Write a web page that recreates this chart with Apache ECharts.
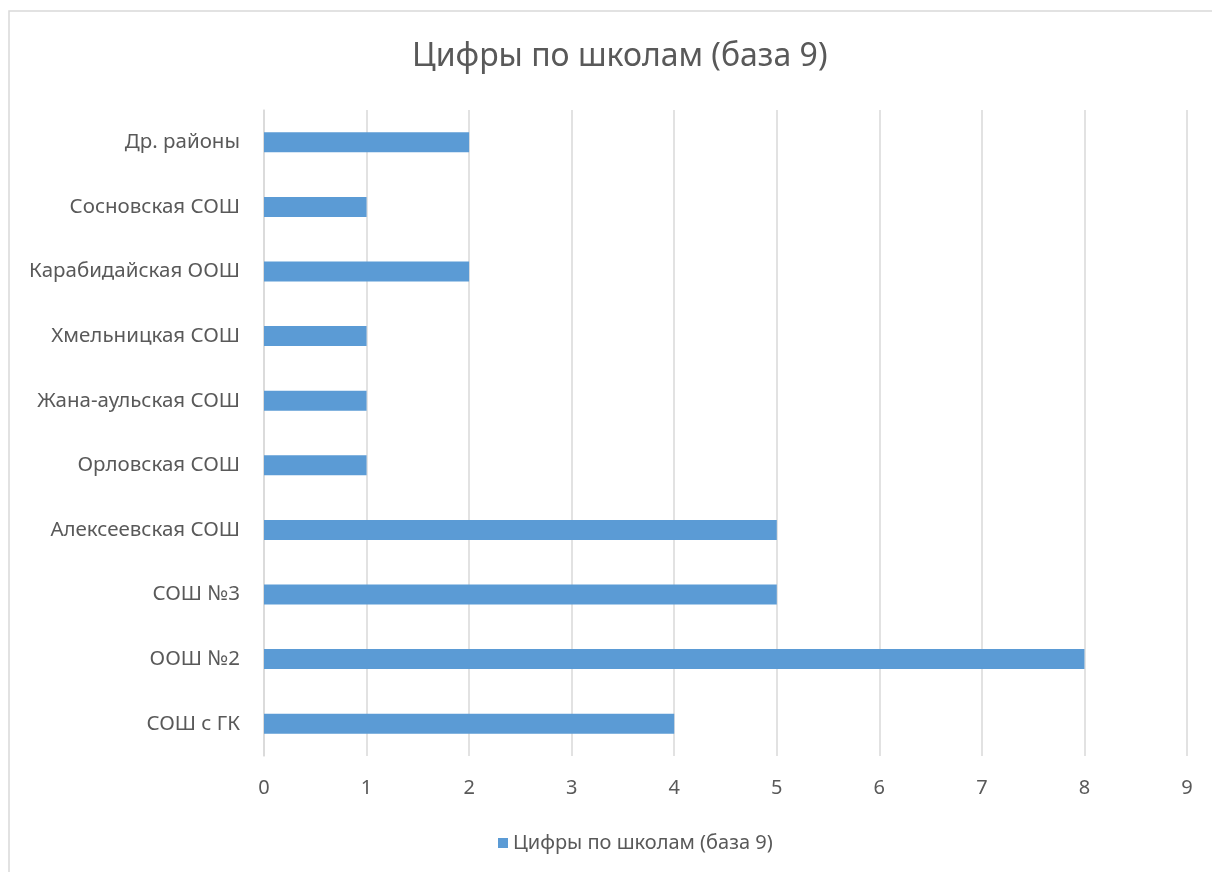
<!DOCTYPE html>
<html>
<head>
<meta charset="utf-8">
<script src="https://cdn.jsdelivr.net/npm/echarts@6/dist/echarts.min.js"></script>
<style>
    html, body { margin: 0; padding: 0; background: #fff; }
    #chart { width: 1212px; height: 872px; }
</style>
</head>
<body>
<div id="chart"></div>
<script>
( () => {
    const chartTitle = 'Цифры по школам (база 9)';
    const seriesName = 'Цифры по школам (база 9)';
    // bottom to top, as drawn on the category axis
    const schools = [
        'СОШ с ГК',
        'ООШ №2',
        'СОШ №3',
        'Алексеевская СОШ',
        'Орловская СОШ',
        'Жана-аульская СОШ',
        'Хмельницкая СОШ',
        'Карабидайская ООШ',
        'Сосновская СОШ',
        'Др. районы',
    ];
    const counts = [ 4, 8, 5, 5, 1, 1, 1, 2, 1, 2 ];
    const xMax = 9;

    const fontFamily = '"Noto Sans", sans-serif';
    const textColor = '#595959';
    const lineColor = '#d9d9d9';

    const barChart = echarts.init(
        document.getElementById( 'chart' ),
        null,
        {
            renderer: 'canvas',
        }
    );

    const barChartOption = {
        animation: false,
        graphic: [
            {
                type: 'rect',
                shape: { x: 9, y: 11, width: 1400, height: 1000 },
                style: { fill: 'none', stroke: lineColor, lineWidth: 1.5 },
                silent: true,
            },
        ],
        title: {
            text: chartTitle,
            left: 407,
            top: 36,
            textStyle: {
                fontFamily: fontFamily,
                fontSize: 32,
                fontWeight: 'normal',
                color: textColor,
            },
        },
        legend: {
            bottom: 14,
            left: 493,
            icon: 'rect',
            itemWidth: 10,
            itemHeight: 10,
            itemGap: 8,
            textStyle: {
                fontFamily: fontFamily,
                fontSize: 20,
                color: textColor,
            },
        },
        grid: {
            left: 264,
            right: 25,
            top: 110,
            bottom: 116,
        },
        xAxis: {
            type: 'value',
            min: 0,
            max: xMax,
            interval: 1,
            axisLine: { show: false },
            axisTick: { show: false },
            splitLine: { lineStyle: { color: lineColor, width: 1.5 } },
            axisLabel: {
                margin: 22,
                fontFamily: fontFamily,
                fontSize: 20,
                color: textColor,
            },
        },
        yAxis: {
            type: 'category',
            data: schools,
            axisLine: { lineStyle: { color: lineColor, width: 1.5 } },
            axisTick: { length: 8, lineStyle: { color: lineColor, width: 1.5 } },
            axisLabel: {
                margin: 24,
                fontFamily: fontFamily,
                fontSize: 20.5,
                color: textColor,
            },
        },
        series: [
            {
                name: seriesName,
                type: 'bar',
                data: counts,
                barWidth: '31%',
                itemStyle: { color: '#5b9bd5' },
            },
        ],
    };

    barChart.setOption( barChartOption );
} ) ();
</script>
</body>
</html>
